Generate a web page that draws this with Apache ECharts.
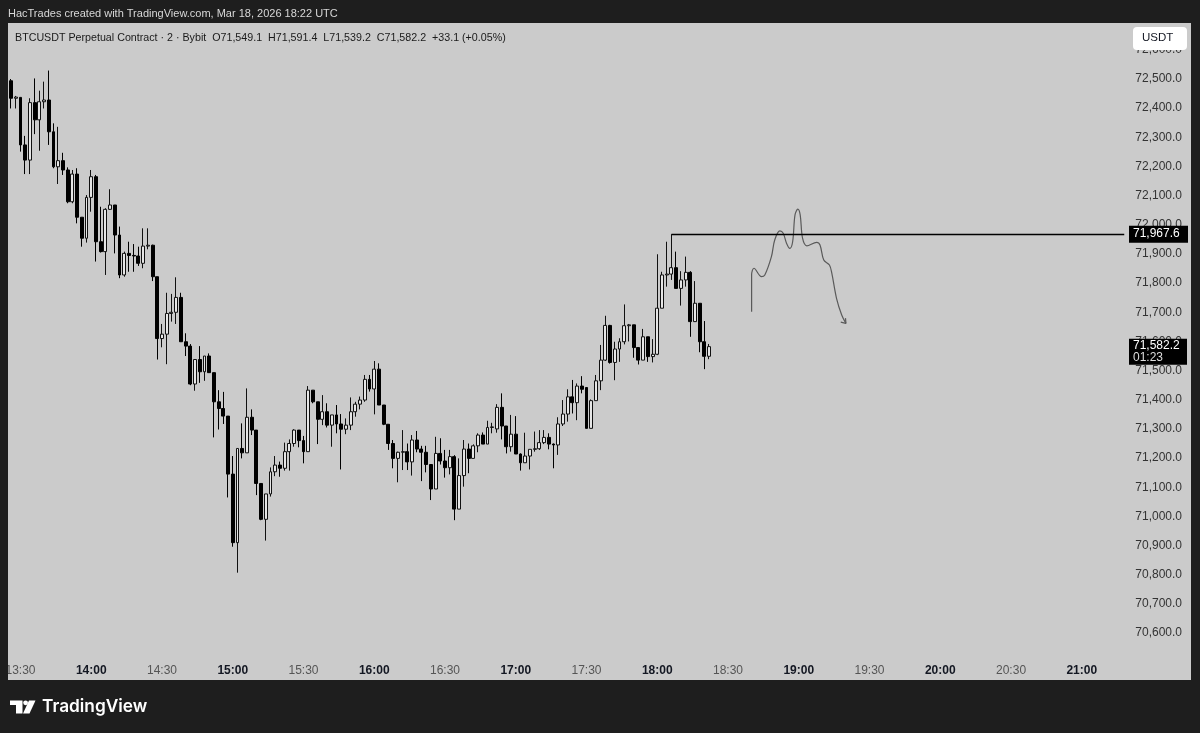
<!DOCTYPE html>
<html>
<head>
<meta charset="utf-8">
<script src="https://cdn.jsdelivr.net/npm/echarts@6/dist/echarts.min.js"></script>
<style>
  html, body { margin: 0; padding: 0; background: #1e1e1e; }
  #chart { width: 1200px; height: 733px; }
</style>
</head>
<body>
<div id="chart"></div>
<script>
// BTCUSDT 2m candles, first bar 13:26
var firstBar = 13 * 60 + 26;
var barMinutes = 2;
var slotCount = 237; // axis runs on past the last candle to ~21:18

var opens = [
  72494, 72434, 72437, 72274, 72222, 72419, 72360, 72422, 72428, 72319,
  72199, 72220, 72188, 72079, 72174, 72026, 71954, 72094, 72165, 71942,
  71908, 72053, 72068, 71965, 71828, 71902, 71895, 71893, 71868, 71927,
  71930, 71822, 71610, 71625, 71696, 71700, 71751, 71599, 71584, 71454,
  71538, 71496, 71550, 71493, 71393, 71370, 71344, 71145, 70910, 71233,
  71218, 71340, 71296, 71113, 70990, 71077, 71153, 71176, 71165, 71222,
  71250, 71296, 71260, 71222, 71433, 71393, 71333, 71359, 71313, 71348,
  71317, 71299, 71313, 71359, 71385, 71399, 71470, 71437, 71505, 71382,
  71316, 71250, 71199, 71220, 71222, 71187, 71262, 71231, 71220, 71178,
  71094, 71216, 71190, 71167, 71205, 71025, 71140, 71231, 71199, 71242,
  71279, 71248, 71305, 71300, 71374, 71310, 71239, 71282, 71214, 71184,
  71207, 71230, 71232, 71253, 71271, 71248, 71245, 71317, 71351, 71410,
  71390, 71447, 71442, 71302, 71397, 71465, 71536, 71655, 71528, 71574,
  71599, 71654, 71657, 71579, 71536, 71616, 71548, 71556, 71714, 71828,
  71831, 71853, 71782, 71811, 71837, 71668, 71731, 71599, 71549.1
];
var closes = [
  72434, 72438, 72274, 72222, 72419, 72360, 72422, 72428, 72319, 72199,
  72220, 72188, 72079, 72174, 72026, 71954, 72094, 72165, 71942, 71908,
  72053, 72068, 71965, 71828, 71902, 71895, 71893, 71868, 71927, 71930,
  71822, 71610, 71625, 71696, 71700, 71751, 71599, 71584, 71454, 71538,
  71496, 71550, 71493, 71393, 71370, 71344, 71145, 70910, 71233, 71218,
  71340, 71296, 71113, 70990, 71077, 71153, 71176, 71165, 71222, 71250,
  71296, 71260, 71222, 71433, 71393, 71333, 71359, 71313, 71348, 71317,
  71299, 71313, 71359, 71385, 71399, 71470, 71437, 71505, 71382, 71316,
  71250, 71199, 71220, 71222, 71187, 71262, 71231, 71220, 71178, 71094,
  71216, 71190, 71167, 71205, 71025, 71140, 71231, 71199, 71242, 71279,
  71248, 71305, 71307, 71374, 71310, 71239, 71282, 71214, 71184, 71207,
  71230, 71232, 71253, 71271, 71248, 71245, 71317, 71351, 71410, 71390,
  71447, 71436, 71302, 71397, 71465, 71536, 71655, 71528, 71574, 71599,
  71654, 71657, 71579, 71536, 71616, 71548, 71556, 71714, 71828, 71831,
  71853, 71782, 71811, 71837, 71668, 71731, 71599, 71549, 71582.2
];
var lows = [
  72399, 72399, 72251, 72174, 72174, 72311, 72254, 72399, 72274, 72194,
  72140, 72171, 72074, 72074, 72005, 71925, 71939, 72045, 71874, 71905,
  71828, 72051, 71902, 71817, 71822, 71839, 71839, 71859, 71851, 71916,
  71807, 71538, 71580, 71522, 71668, 71660, 71599, 71550, 71450, 71431,
  71458, 71465, 71493, 71271, 71298, 71317, 71065, 70896, 70807, 71199,
  71218, 71279, 71073, 70987, 70917, 71068, 71138, 71136, 71157, 71157,
  71239, 71237, 71182, 71222, 71388, 71248, 71313, 71305, 71239, 71285,
  71161, 71282, 71296, 71342, 71367, 71393, 71428, 71350, 71382, 71313,
  71228, 71165, 71117, 71159, 71159, 71140, 71220, 71121, 71151, 71056,
  71094, 71178, 71133, 71144, 70987, 71025, 71102, 71148, 71199, 71220,
  71248, 71248, 71285, 71287, 71264, 71216, 71222, 71214, 71157, 71184,
  71161, 71222, 71228, 71248, 71230, 71165, 71211, 71310, 71325, 71353,
  71330, 71422, 71302, 71302, 71397, 71433, 71533, 71524, 71467, 71530,
  71590, 71600, 71544, 71521, 71536, 71530, 71528, 71553, 71714, 71788,
  71811, 71782, 71723, 71788, 71616, 71668, 71563, 71505, 71539.2
];
var highs = [
  72500, 72442, 72437, 72305, 72434, 72502, 72460, 72491, 72529, 72348,
  72336, 72247, 72197, 72188, 72194, 72026, 72102, 72188, 72171, 72062,
  72057, 72122, 72068, 71994, 71908, 71942, 71934, 71925, 71988, 71988,
  71932, 71822, 71660, 71767, 71763, 71820, 71767, 71628, 71591, 71538,
  71584, 71550, 71559, 71493, 71433, 71427, 71344, 71207, 71233, 71319,
  71439, 71367, 71296, 71113, 71077, 71168, 71207, 71188, 71253, 71264,
  71299, 71296, 71276, 71447, 71433, 71393, 71416, 71388, 71348, 71382,
  71351, 71336, 71408, 71393, 71411, 71485, 71485, 71533, 71525, 71382,
  71316, 71262, 71222, 71296, 71250, 71279, 71293, 71242, 71242, 71178,
  71273, 71268, 71228, 71228, 71210, 71199, 71262, 71250, 71247, 71285,
  71288, 71328, 71321, 71385, 71422, 71310, 71348, 71344, 71216, 71287,
  71230, 71291, 71296, 71296, 71285, 71250, 71340, 71399, 71436, 71468,
  71456, 71481, 71442, 71401, 71485, 71588, 71688, 71657, 71599, 71611,
  71727, 71660, 71657, 71579, 71643, 71616, 71608, 71899, 71839, 71942,
  71967.6, 71908, 71841, 71891, 71841, 71807, 71731, 71670, 71591.4
];

// resistance level drawn from the 18:02 high
var levelBar = 140;
var levelPrice = 71967.6;
var lastPrice = 71582.2;
var countdown = '01:23';

// hand drawn projection (bar slot, price)
var drawSlots = [157.0, 157.0, 157.5, 159.1, 159.8, 161.2, 161.9, 163.0, 163.7, 164.4,
  165.1, 165.7, 166.2, 166.8, 167.3, 167.8, 168.7, 170.8, 171.5, 172.3,
  173.5, 174.0, 175.0, 176.1, 177.0];
var drawPrices = [71702, 71828, 71851, 71822, 71828, 71891, 71948, 71979, 71971, 71937,
  71919, 71942, 72034, 72054, 72034, 71954, 71928, 71940, 71931, 71879,
  71862, 71834, 71748, 71691, 71662];
var arrowSlots = [175.9, 177.0, 176.9];
var arrowPrices = [71666, 71662, 71680];

var categories = [];
for (var k = 0; k < slotCount; k++) {
  var m = firstBar + k * barMinutes;
  var mm = m % 60;
  categories.push(Math.floor(m / 60) + ':' + (mm < 10 ? '0' : '') + mm);
}
var candles = opens.map(function (o, i) {
  return [o, closes[i], lows[i], highs[i]];
});

function fmt(v) {
  return v.toLocaleString('en-US', { minimumFractionDigits: 1, maximumFractionDigits: 1 });
}

var drawLine = drawSlots.map(function (s, i) { return [s, drawPrices[i]]; });
var arrowLine = arrowSlots.map(function (s, i) { return [s, arrowPrices[i]]; });

var dark = '#1e1e1e';
var chart = echarts.init(document.getElementById('chart'));
var option = {
  backgroundColor: '#cbcbcb',
  animation: false,
  grid: {
    left: 8.7,
    right: 73.4,
    top: 20.7,
    height: 641.5,
    outerBoundsMode: 'none'
  },
  xAxis: [
    {
      type: 'category',
      data: categories,
      boundaryGap: true,
      axisLine: { show: false },
      axisTick: { show: false },
      splitLine: { show: false },
      axisLabel: {
        margin: 2,
        fontSize: 12,
        fontFamily: 'Liberation Sans',
        interval: function (idx, val) {
          return /:(00|30)$/.test(val);
        },
        formatter: function (val) {
          return /:00$/.test(val) ? '{b|' + val + '}' : '{n|' + val + '}';
        },
        rich: {
          b: { fontWeight: 'bold', color: '#131722', fontSize: 12, fontFamily: 'Liberation Sans' },
          n: { color: '#555', fontSize: 12, fontFamily: 'Liberation Sans' }
        }
      }
    },
    {
      type: 'value',
      show: false,
      min: -0.5,
      max: slotCount - 0.5
    }
  ],
  yAxis: {
    type: 'value',
    position: 'right',
    min: 70500,
    max: 72700,
    interval: 100,
    axisLine: { show: false },
    axisTick: { show: false },
    splitLine: { show: false },
    axisLabel: {
      align: 'right',
      margin: 55.4,
      color: '#333',
      fontSize: 12,
      fontFamily: 'Liberation Sans',
      formatter: function (v) {
        if (v > 72650 || v < 70550) return '';
        return fmt(v);
      }
    }
  },
  series: [
    {
      type: 'candlestick',
      data: candles,
      barWidth: 3.4,
      itemStyle: {
        color: '#e6e6e6',
        color0: '#000',
        borderColor: '#111',
        borderColor0: '#000',
        borderWidth: 1
      },
      markLine: {
        silent: true,
        symbol: 'none',
        label: { show: false },
        lineStyle: { color: '#000', width: 1.4, type: 'solid' },
        data: [[
          { coord: [categories[levelBar], levelPrice] },
          { coord: [categories[slotCount - 1], levelPrice] }
        ]]
      }
    },
    {
      type: 'line',
      xAxisIndex: 1,
      data: drawLine,
      smooth: 0.35,
      symbol: 'none',
      lineStyle: { color: '#5a5a5a', width: 1.2 }
    },
    {
      type: 'line',
      xAxisIndex: 1,
      data: arrowLine,
      symbol: 'none',
      lineStyle: { color: '#5a5a5a', width: 1.2 }
    }
  ],
  graphic: [
    { type: 'rect', z: 100, shape: { x: 0, y: 0, width: 1200, height: 23 }, style: { fill: dark } },
    { type: 'rect', z: 100, shape: { x: 0, y: 0, width: 8, height: 733 }, style: { fill: dark } },
    { type: 'rect', z: 100, shape: { x: 1191, y: 0, width: 9, height: 733 }, style: { fill: dark } },
    { type: 'rect', z: 100, shape: { x: 0, y: 680, width: 1200, height: 53 }, style: { fill: dark } },
    {
      type: 'text', z: 101, left: 8, top: 8,
      style: { text: 'HacTrades created with TradingView.com, Mar 18, 2026 18:22 UTC', fill: '#d8d8d8', font: '11px "Liberation Sans"' }
    },
    {
      type: 'text', z: 101, left: 15, top: 33,
      style: {
        text: 'BTCUSDT Perpetual Contract \u00b7 2 \u00b7 Bybit  O71,549.1  H71,591.4  L71,539.2  C71,582.2  +33.1 (+0.05%)',
        fill: '#1a1a1a', font: '10.7px "Liberation Sans"'
      }
    },
    { type: 'rect', z: 101, shape: { x: 1133, y: 27, width: 54, height: 23, r: 4 }, style: { fill: '#fff' } },
    { type: 'text', z: 102, left: 1142, top: 32, style: { text: 'USDT', fill: '#131722', font: '11.5px "Liberation Sans"' } },
    // TradingView logo
    { type: 'polygon', z: 101, shape: { points: [[10, 700.5], [22.5, 700.5], [22.5, 713.5], [16, 713.5], [16, 705], [10, 705]] }, style: { fill: '#fff' } },
    { type: 'circle', z: 101, shape: { cx: 25.6, cy: 702.8, r: 2.4 }, style: { fill: '#fff' } },
    { type: 'polygon', z: 101, shape: { points: [[29, 700.5], [35.5, 700.5], [29.5, 713.5], [23, 713.5]] }, style: { fill: '#fff' } },
    { type: 'text', z: 101, left: 42, top: 698, style: { text: 'TradingView', fill: '#fff', font: '600 17.3px Inter' } }
  ]
};
chart.setOption(option);

// price tags on the axis, placed through the y scale
var levelY = chart.convertToPixel({ yAxisIndex: 0 }, levelPrice);
var lastY = chart.convertToPixel({ yAxisIndex: 0 }, lastPrice);
chart.setOption({
  graphic: [
    { id: 'lvlBox', type: 'rect', z: 103, shape: { x: 1129, y: levelY - 8.5, width: 59, height: 17 }, style: { fill: '#000' } },
    { id: 'lvlTxt', type: 'text', z: 104, left: 1133, top: levelY - 7, style: { text: fmt(levelPrice), fill: '#fff', font: '12px "Liberation Sans"' } },
    { id: 'lastBox', type: 'rect', z: 103, shape: { x: 1129, y: lastY - 8, width: 58, height: 26 }, style: { fill: '#000' } },
    { id: 'lastTxt', type: 'text', z: 104, left: 1133, top: lastY - 6.5, style: { text: fmt(lastPrice), fill: '#fff', font: '12px "Liberation Sans"' } },
    { id: 'cdTxt', type: 'text', z: 104, left: 1133, top: lastY + 5, style: { text: countdown, fill: '#ddd', font: '12px "Liberation Sans"' } }
  ]
});
</script>
</body>
</html>
